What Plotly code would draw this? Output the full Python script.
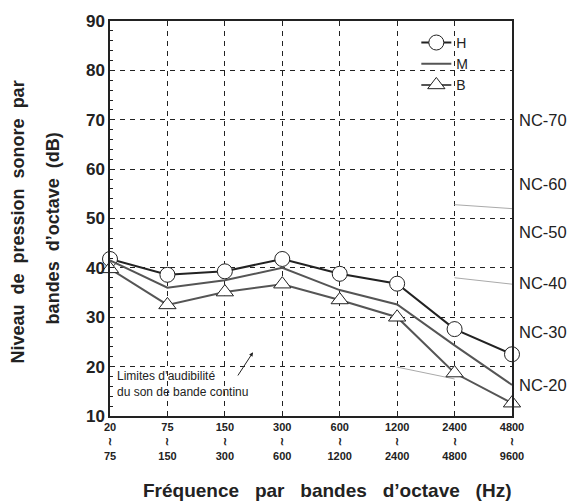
import plotly.graph_objects as go

bands = ["20<br>≀<br>75", "75<br>≀<br>150", "150<br>≀<br>300", "300<br>≀<br>600",
         "600<br>≀<br>1200", "1200<br>≀<br>2400", "2400<br>≀<br>4800", "4800<br>≀<br>9600"]
h_vals = [41.8, 38.6, 39.3, 41.8, 38.8, 36.8, 27.6, 22.5]
m_vals = [41.5, 36.0, 37.5, 40.0, 35.5, 32.6, 24.3, 16.3]
b_vals = [39.8, 32.5, 35.1, 36.7, 33.5, 30.0, 18.7, 12.6]

nc_labels = ["NC-70", "NC-60", "NC-50", "NC-40", "NC-30", "NC-20"]
nc_label_y = [70, 57, 47.3, 37, 27, 16.3]

# short grey fragments of NC curves
nc_seg_x = [[bands[6], bands[7]], [bands[6], bands[7]], [bands[5], bands[6]]]
nc_seg_y = [[52.8, 52.0], [38.0, 36.7], [19.9, 17.5]]

FONT = "Liberation Sans, Arial, sans-serif"
fig = go.Figure()

for sx, sy in zip(nc_seg_x, nc_seg_y):
    fig.add_trace(go.Scatter(x=sx, y=sy, mode="lines", showlegend=False,
                             line=dict(color="#aaaaaa", width=1), hoverinfo="skip"))

fig.add_trace(go.Scatter(x=bands, y=h_vals, name="H", mode="lines+markers",
                         line=dict(color="#222222", width=2),
                         marker=dict(symbol="circle", size=15, color="white",
                                     line=dict(color="#222222", width=1)),
                         cliponaxis=False))
fig.add_trace(go.Scatter(x=bands, y=m_vals, name="M", mode="lines",
                         line=dict(color="#555555", width=2), cliponaxis=False))
fig.add_trace(go.Scatter(x=bands, y=b_vals, name="B", mode="lines+markers",
                         line=dict(color="#555555", width=2),
                         marker=dict(symbol="triangle-up", size=15, color="white",
                                     line=dict(color="#222222", width=1)),
                         cliponaxis=False))

for lab, yv in zip(nc_labels, nc_label_y):
    fig.add_annotation(x=1.0, xref="paper", y=yv, yref="y", text=lab,
                       showarrow=False, xanchor="left", xshift=5,
                       font=dict(family=FONT, size=16.5, color="#222"))

fig.add_annotation(x=0, xref="x", y=16.5, yref="y", xshift=5, text="Limites d’audibilité<br>du son de bande continu",
                   showarrow=False, xanchor="left", align="left", yanchor="middle",
                   font=dict(family=FONT, size=12, color="#222"))
fig.add_annotation(x=2.49, y=22.9, xref="x", yref="y", ax=2.21, ay=17.9, axref="x", ayref="y",
                   text="", showarrow=True, arrowhead=2, arrowsize=0.8, arrowwidth=1, arrowcolor="#222")

# Y title as two lines
fig.add_annotation(x=0, xref="paper", y=0.49, yref="paper", xshift=-92, text="<b>Niveau  de  pression  sonore  par</b>",
                   textangle=-90, showarrow=False, font=dict(family=FONT, size=18, color="#222"),
                   xanchor="center", yanchor="middle")
fig.add_annotation(x=0, xref="paper", y=0.475, yref="paper", xshift=-57, text="<b>bandes  d’octave  (dB)</b>",
                   textangle=-90, showarrow=False, font=dict(family=FONT, size=18, color="#222"),
                   xanchor="center", yanchor="middle")

# X title
fig.add_annotation(x=0.5, xref="paper", y=0, yref="paper", xshift=16, yshift=-74,
                   text="<b>Fréquence   par   bandes   d’octave   (Hz)</b>",
                   showarrow=False, xanchor="center", yanchor="middle",
                   font=dict(family=FONT, size=19, color="#222"))

fig.update_layout(
    width=573, height=503,
    margin=dict(l=110, r=61, t=17, b=87),
    paper_bgcolor="white", plot_bgcolor="white",
    font=dict(family=FONT, color="#222"),
    legend=dict(x=0.762, y=0.985, xanchor="left", yanchor="top",
                bgcolor="rgba(0,0,0,0)", font=dict(size=14, family=FONT),
                tracegroupgap=0),
    xaxis=dict(
        type="category", categoryorder="array", categoryarray=bands,
        range=[0, 7], showline=True, linecolor="#222", linewidth=1.5, mirror=True,
        showgrid=True, gridcolor="#222", griddash="5px,5px", gridwidth=1,
        ticks="inside", ticklen=4, tickcolor="#222",
        tickfont=dict(family=FONT, size=11, color="#222", weight="bold"),
        zeroline=False,
    ),
    yaxis=dict(
        range=[10, 90], dtick=10, showline=True, linecolor="#222", linewidth=1.5, mirror=True,
        showgrid=True, gridcolor="#222", griddash="5px,5px", gridwidth=1,
        ticks="inside", ticklen=4, tickcolor="#222",
        minor=dict(dtick=2, ticks="inside", ticklen=3, tickcolor="#222", showgrid=False),
        tickfont=dict(family=FONT, size=17, color="#222", weight="bold"),
        zeroline=False,
    ),
)

fig.write_html("out.html")
